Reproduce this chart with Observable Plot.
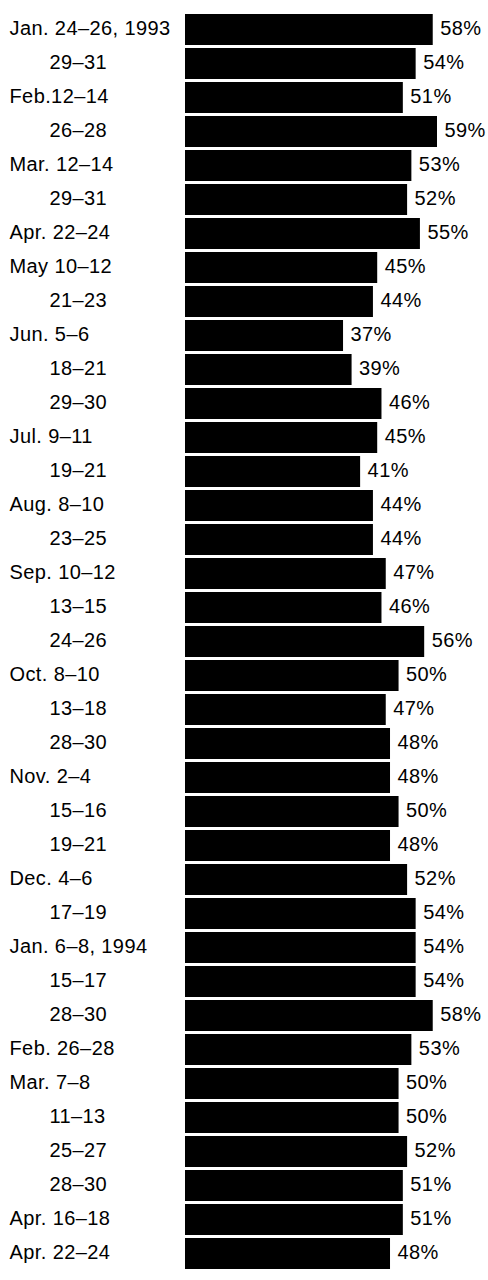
<!DOCTYPE html>
<html><head><meta charset="utf-8">
<script src="https://cdn.jsdelivr.net/npm/d3@7"></script>
<script src="https://cdn.jsdelivr.net/npm/@observablehq/plot@0.6"></script>
<style>html,body{margin:0;padding:0;background:#fff} svg{display:block} svg text{letter-spacing:0.4px}</style>
</head><body><div id="chart"></div>
<script>
const labels = [
  "Jan. 24–26, 1993", "29–31", "Feb.12–14", "26–28", "Mar. 12–14", "29–31",
  "Apr. 22–24", "May 10–12", "21–23", "Jun. 5–6", "18–21", "29–30",
  "Jul. 9–11", "19–21", "Aug. 8–10", "23–25", "Sep. 10–12", "13–15",
  "24–26", "Oct. 8–10", "13–18", "28–30", "Nov. 2–4", "15–16",
  "19–21", "Dec. 4–6", "17–19", "Jan. 6–8, 1994", "15–17", "28–30",
  "Feb. 26–28", "Mar. 7–8", "11–13", "25–27", "28–30", "Apr. 16–18",
  "Apr. 22–24"
];
const values = [
  58, 54, 51, 59, 53, 52,
  55, 45, 44, 37, 39, 46,
  45, 41, 44, 44, 47, 46,
  56, 50, 47, 48, 48, 50,
  48, 52, 54, 54, 54, 58,
  53, 50, 50, 52, 51, 51,
  48
];

const data = labels.map((label, i) => ({i, label, value: values[i]}));
const startsWithMonth = s => /^[A-Za-z]/.test(s);
const monthTicks = data.filter(d => startsWithMonth(d.label)).map(d => d.i);
const dayTicks = data.filter(d => !startsWithMonth(d.label)).map(d => d.i);
const fmt = i => labels[i];
const font = "'Liberation Sans', Arial, Helvetica, sans-serif";

const chart = Plot.plot({
  width: 488,
  height: 1280,
  marginTop: 5,
  marginBottom: 2,
  marginLeft: 185,
  marginRight: 51,
  style: {fontFamily: font, fontSize: "20px", background: "#fff", color: "#000"},
  x: {domain: [0, 59], axis: null},
  y: {domain: d3.range(labels.length), paddingInner: 0.075, paddingOuter: 0.0375},
  marks: [
    Plot.barX(data, {x: "value", y: "i", fill: "#000"}),
    Plot.text(data, {x: "value", y: "i", text: d => d.value + "%", textAnchor: "start", dx: 7, dy: -1, fill: "#000", fontSize: 20}),
    Plot.axisY({ticks: monthTicks, tickFormat: fmt, tickSize: 0, tickPadding: 0, textAnchor: "start", dx: -176, dy: -1, fontSize: 20, label: null}),
    Plot.axisY({ticks: dayTicks, tickFormat: fmt, tickSize: 0, tickPadding: 0, textAnchor: "start", dx: -136, dy: -1, fontSize: 20, label: null})
  ]
});
document.getElementById("chart").appendChild(chart);
</script>
</body></html>
